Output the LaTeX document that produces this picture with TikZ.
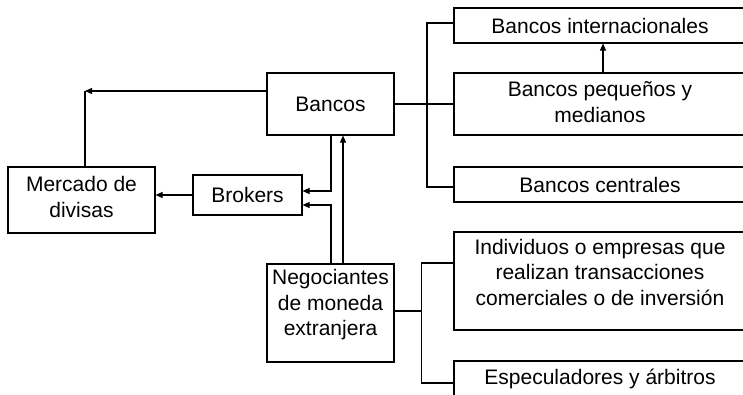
\documentclass[tikz,border=0pt]{standalone}
\usepackage{fontspec}
\setmainfont{Liberation Sans}
\usetikzlibrary{arrows.meta}
\begin{document}
\begin{tikzpicture}[x=1pt,y=-1pt,
  txt/.style={inner sep=0pt, align=center, font=\fontsize{21}{25.5}\selectfont},
  box/.style={draw, line width=1.1pt, txt},
  link/.style={line width=1.1pt},
  arr/.style={link, -{Triangle[length=7pt,width=6pt]}}]
\useasboundingbox (0,0) rectangle (743,394);

% left part
\node[box, minimum width=147pt, minimum height=66pt] (mercado) at (81.5,200) {};
\node[txt] (mercadotxt) at (81.5,197) {Mercado de\\divisas};
\node[box, minimum width=109pt, minimum height=40pt] (brokers) at (247.5,195) {Brokers};
\node[box, minimum width=127pt, minimum height=62pt] (bancos) at (330.5,104) {Bancos};
\node[box, minimum width=127pt, minimum height=98pt] (neg) at (330.5,313) {};
\node[txt] (negtxt) at (330.5,305) {Negociantes\\de moneda\\extranjera};

% right part (boxes run past the right edge)
\node[box, minimum width=292pt, minimum height=35pt] (intl) at (600,25.5) {Bancos internacionales};
\node[box, minimum width=292pt, minimum height=62pt] (peq) at (600,104) {};
\node[txt] (peqtxt) at (600,102) {Bancos pequeños y\\medianos};
\node[box, minimum width=292pt, minimum height=35pt] (cent) at (600,184.5) {Bancos centrales};
\node[box, minimum width=292pt, minimum height=98pt] (indiv) at (600,281) {};
\node[txt] (indivtxt) at (600,272) {Individuos o empresas que\\realizan transacciones\\comerciales o de inversión};
\node[box, minimum width=292pt, minimum height=36pt] (espec) at (600,379) {Especuladores y árbitros};

% bank to currency market
\coordinate (corner) at (85,91);
\draw[arr] (bancos.west |- corner) -- (corner);
\draw[link] (mercado.north -| corner) -- (corner);

% brokers to currency market
\draw[arr] (brokers.west) -- (brokers.west -| mercado.east);

% flows into brokers and banks
\draw[arr] ([xshift=0.5pt]bancos.south) |- ([yshift=4pt]brokers.east);
\draw[arr] ([xshift=0.5pt]neg.north) |- ([yshift=-10pt]brokers.east);
\draw[arr] ([xshift=12.5pt]neg.north) -- ([xshift=12.5pt]bancos.south);

% bank types
\coordinate (bx) at (427,0);
\draw[link] (bancos.east) -- (peq.west);
\draw[link] ([yshift=2.5pt]intl.west) -- ([yshift=2.5pt]intl.west -| bx)
  -- ([yshift=-2.5pt]cent.west -| bx) -- ([yshift=-2.5pt]cent.west);
\draw[arr] ([xshift=3pt]peq.north) -- ([xshift=3pt]intl.south);

% trader types
\coordinate (bx2) at (421.5,0);
\draw[link] ([yshift=2pt]neg.east) -- ([yshift=2pt]neg.east -| bx2);
\draw[link] ([yshift=18pt]indiv.west) -- ([yshift=18pt]indiv.west -| bx2)
  -- ([yshift=-4pt]espec.west -| bx2) -- ([yshift=-4pt]espec.west);
\end{tikzpicture}
\end{document}
